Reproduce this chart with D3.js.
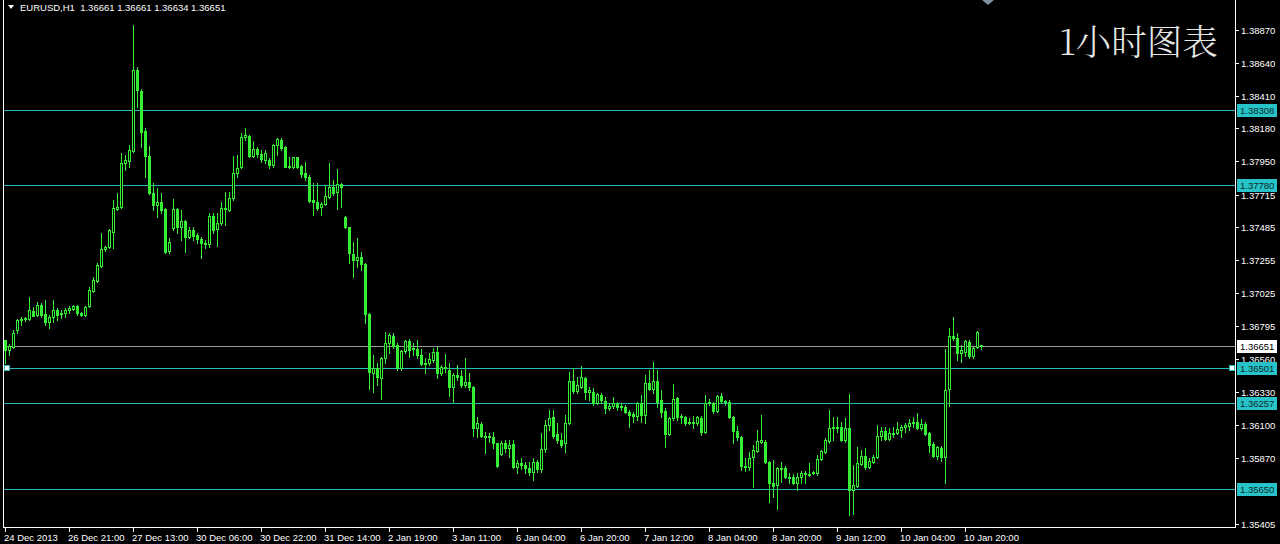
<!DOCTYPE html>
<html><head><meta charset="utf-8">
<script src="https://cdn.jsdelivr.net/npm/d3@7"></script>
<style>html,body{margin:0;padding:0;background:#000;overflow:hidden}svg{display:block}</style>
</head><body><svg id="c" width="1280" height="544"></svg>
<script>
const symbol = "EURUSD,H1";
const headerValues = ["1.36661", "1.36661", "1.36634", "1.36651"];
const title = "1小时图表";

const open = [
1.36695,1.36625,1.36646,1.36765,1.36836,1.36843,1.36843,1.36899,1.36871,1.36941,
1.36878,1.36821,1.36857,1.36906,1.36878,1.36885,1.36906,1.36913,1.36934,1.36885,
1.36871,1.36934,1.37039,1.37109,1.37214,1.37334,1.37348,1.37453,1.37614,1.37628,
1.37937,1.37951,1.38021,1.38589,1.38442,1.38161,1.37986,1.37726,1.37642,1.37663,
1.37614,1.37319,1.37481,1.37614,1.37488,1.37530,1.37418,1.37467,1.37432,1.37404,
1.37376,1.37369,1.37565,1.37474,1.37516,1.37614,1.37607,1.37691,1.37867,1.37909,
1.38119,1.38126,1.37986,1.38035,1.38000,1.37958,1.37958,1.37923,1.38063,1.38098,
1.38049,1.37916,1.37909,1.37979,1.37916,1.37867,1.37839,1.37677,1.37663,1.37628,
1.37649,1.37698,1.37768,1.37733,1.37789,1.37558,1.37488,1.37298,1.37256,1.37277,
1.37228,1.36878,1.36464,1.36499,1.36429,1.36569,1.36674,1.36723,1.36660,1.36499,
1.36618,1.36688,1.36632,1.36632,1.36590,1.36534,1.36534,1.36555,1.36611,1.36464,
1.36499,1.36485,1.36366,1.36450,1.36443,1.36380,1.36401,1.36366,1.36078,1.36106,
1.36022,1.36022,1.36015,1.35973,1.35896,1.35973,1.35938,1.35966,1.35804,1.35833,
1.35818,1.35797,1.35769,1.35840,1.35790,1.35931,1.36099,1.36155,1.36036,1.35994,
1.35973,1.36113,1.36408,1.36338,1.36366,1.36429,1.36331,1.36331,1.36253,1.36309,
1.36267,1.36218,1.36232,1.36253,1.36225,1.36225,1.36190,1.36176,1.36162,1.36253,
1.36169,1.36394,1.36352,1.36408,1.36274,1.36197,1.36036,1.36148,1.36288,1.36155,
1.36155,1.36120,1.36113,1.36113,1.36148,1.36050,1.36253,1.36253,1.36197,1.36302,
1.36267,1.36260,1.36155,1.36057,1.36015,1.35811,1.35804,1.35875,1.35917,1.35980,
1.35980,1.35840,1.35692,1.35678,1.35797,1.35797,1.35734,1.35734,1.35692,1.35734,
1.35762,1.35755,1.35762,1.35762,1.35861,1.35910,1.35987,1.36078,1.36085,1.36085,
1.35994,1.36078,1.35643,1.35671,1.35825,1.35882,1.35804,1.35840,1.35875,1.36022,
1.36057,1.36001,1.36043,1.36043,1.36064,1.36085,1.36092,1.36113,1.36120,1.36078,
1.36106,1.36043,1.35966,1.35882,1.35938,1.35875,1.36352,1.36723,1.36709,1.36604,
1.36611,1.36681,1.36583,1.36646,1.36661];

const high = [
1.36695,1.36667,1.36765,1.36843,1.36857,1.36857,1.36997,1.36927,1.36962,1.36955,
1.36976,1.36871,1.36976,1.36920,1.36906,1.36920,1.36934,1.36941,1.36941,1.36892,
1.36934,1.37067,1.37137,1.37235,1.37446,1.37355,1.37474,1.37677,1.37726,1.38007,
1.37993,1.38063,1.38905,1.38610,1.38456,1.38182,1.38056,1.37796,1.37761,1.37726,
1.37621,1.37411,1.37684,1.37621,1.37607,1.37537,1.37488,1.37488,1.37446,1.37418,
1.37397,1.37586,1.37586,1.37586,1.37663,1.37733,1.37733,1.37986,1.37993,1.38147,
1.38182,1.38133,1.38091,1.38049,1.38028,1.38028,1.37972,1.38070,1.38112,1.38112,
1.38056,1.37979,1.37979,1.37979,1.37923,1.37944,1.37853,1.37796,1.37796,1.37663,
1.37782,1.37937,1.37817,1.37895,1.37796,1.37565,1.37488,1.37383,1.37411,1.37312,
1.37235,1.36885,1.36590,1.36534,1.36576,1.36751,1.36744,1.36744,1.36674,1.36625,
1.36695,1.36702,1.36674,1.36695,1.36632,1.36569,1.36604,1.36639,1.36646,1.36520,
1.36597,1.36534,1.36464,1.36520,1.36485,1.36569,1.36464,1.36373,1.36155,1.36120,
1.36050,1.36043,1.36050,1.35973,1.35987,1.35994,1.35994,1.35994,1.35854,1.35868,
1.35840,1.35840,1.35868,1.35854,1.36043,1.36134,1.36204,1.36204,1.36113,1.36043,
1.36169,1.36471,1.36499,1.36436,1.36513,1.36436,1.36366,1.36359,1.36323,1.36323,
1.36295,1.36253,1.36295,1.36260,1.36253,1.36239,1.36204,1.36190,1.36260,1.36309,
1.36450,1.36485,1.36541,1.36485,1.36345,1.36218,1.36155,1.36387,1.36295,1.36176,
1.36162,1.36148,1.36162,1.36162,1.36162,1.36309,1.36281,1.36260,1.36309,1.36323,
1.36274,1.36274,1.36162,1.36092,1.36022,1.35868,1.35910,1.35959,1.36064,1.36169,
1.35994,1.35847,1.35854,1.35804,1.35840,1.35811,1.35762,1.35755,1.35762,1.35776,
1.35776,1.35833,1.35776,1.35889,1.35924,1.36008,1.36204,1.36155,1.36155,1.36120,
1.36148,1.36316,1.35818,1.35945,1.35924,1.35938,1.35868,1.35889,1.36099,1.36085,
1.36085,1.36078,1.36085,1.36120,1.36099,1.36113,1.36141,1.36155,1.36183,1.36141,
1.36120,1.36050,1.35980,1.35952,1.35952,1.36632,1.36779,1.36857,1.36744,1.36660,
1.36695,1.36695,1.36646,1.36758,1.36661];

const low = [
1.36534,1.36590,1.36639,1.36744,1.36800,1.36828,1.36836,1.36864,1.36864,1.36857,
1.36800,1.36779,1.36821,1.36836,1.36850,1.36857,1.36885,1.36906,1.36871,1.36864,
1.36864,1.36927,1.37032,1.37102,1.37207,1.37319,1.37341,1.37341,1.37607,1.37621,
1.37888,1.37909,1.38014,1.38329,1.38049,1.37839,1.37719,1.37607,1.37558,1.37586,
1.37305,1.37305,1.37467,1.37446,1.37397,1.37312,1.37411,1.37397,1.37376,1.37270,
1.37341,1.37348,1.37446,1.37355,1.37502,1.37502,1.37600,1.37677,1.37839,1.37902,
1.38098,1.37979,1.37979,1.37979,1.37944,1.37937,1.37902,1.37909,1.37993,1.38028,
1.37909,1.37902,1.37902,1.37902,1.37839,1.37817,1.37663,1.37572,1.37607,1.37572,
1.37642,1.37691,1.37712,1.37614,1.37628,1.37481,1.37235,1.37137,1.37207,1.37186,
1.36814,1.36352,1.36331,1.36380,1.36281,1.36534,1.36604,1.36639,1.36485,1.36485,
1.36604,1.36576,1.36590,1.36569,1.36520,1.36464,1.36520,1.36541,1.36429,1.36450,
1.36471,1.36302,1.36260,1.36415,1.36366,1.36366,1.36345,1.36022,1.36015,1.36015,
1.35903,1.35980,1.35938,1.35804,1.35889,1.35910,1.35875,1.35797,1.35762,1.35790,
1.35762,1.35748,1.35713,1.35769,1.35769,1.35910,1.36064,1.36008,1.35973,1.35945,
1.35910,1.36106,1.36323,1.36323,1.36359,1.36281,1.36274,1.36239,1.36246,1.36253,
1.36183,1.36204,1.36218,1.36204,1.36204,1.36183,1.36085,1.36120,1.36134,1.36120,
1.36113,1.36345,1.36323,1.36225,1.36155,1.35945,1.36029,1.36134,1.36134,1.36113,
1.36099,1.36106,1.36078,1.36099,1.36029,1.36043,1.36239,1.36183,1.36190,1.36253,
1.36239,1.36148,1.35973,1.35994,1.35783,1.35776,1.35783,1.35664,1.35910,1.35973,
1.35833,1.35559,1.35594,1.35510,1.35699,1.35727,1.35692,1.35685,1.35643,1.35692,
1.35692,1.35741,1.35755,1.35748,1.35854,1.35903,1.35973,1.35994,1.36050,1.35987,
1.35980,1.35468,1.35475,1.35664,1.35818,1.35790,1.35797,1.35833,1.35868,1.35994,
1.35994,1.35994,1.36015,1.36036,1.36015,1.36050,1.36064,1.36085,1.36071,1.36064,
1.36029,1.35910,1.35875,1.35861,1.35847,1.35692,1.36232,1.36695,1.36555,1.36541,
1.36583,1.36569,1.36569,1.36639,1.36634];

const close = [
1.36625,1.36653,1.36744,1.36836,1.36843,1.36850,1.36906,1.36864,1.36941,1.36871,
1.36821,1.36857,1.36906,1.36871,1.36885,1.36906,1.36920,1.36934,1.36885,1.36871,
1.36927,1.37046,1.37116,1.37221,1.37334,1.37348,1.37467,1.37621,1.37628,1.37937,
1.37958,1.38028,1.38589,1.38449,1.38154,1.37986,1.37726,1.37642,1.37663,1.37607,
1.37312,1.37383,1.37614,1.37488,1.37530,1.37418,1.37467,1.37425,1.37404,1.37376,
1.37369,1.37565,1.37467,1.37516,1.37621,1.37621,1.37691,1.37867,1.37902,1.38119,
1.38133,1.37986,1.38035,1.38000,1.37965,1.38007,1.37923,1.38063,1.38105,1.38042,
1.37909,1.37909,1.37979,1.37909,1.37860,1.37839,1.37670,1.37663,1.37621,1.37649,
1.37705,1.37768,1.37726,1.37789,1.37768,1.37488,1.37305,1.37256,1.37277,1.37228,
1.36878,1.36471,1.36499,1.36436,1.36569,1.36674,1.36730,1.36653,1.36499,1.36618,
1.36688,1.36625,1.36639,1.36590,1.36527,1.36527,1.36562,1.36611,1.36464,1.36506,
1.36506,1.36366,1.36450,1.36436,1.36380,1.36401,1.36366,1.36078,1.36113,1.36022,
1.36015,1.36015,1.35973,1.35811,1.35973,1.35938,1.35959,1.35804,1.35833,1.35818,
1.35797,1.35769,1.35840,1.35790,1.35931,1.36099,1.36148,1.36022,1.35994,1.35959,
1.36113,1.36408,1.36338,1.36380,1.36436,1.36331,1.36345,1.36253,1.36316,1.36274,
1.36218,1.36232,1.36253,1.36225,1.36232,1.36190,1.36169,1.36162,1.36253,1.36169,
1.36394,1.36352,1.36408,1.36260,1.36190,1.36036,1.36148,1.36281,1.36155,1.36162,
1.36113,1.36113,1.36120,1.36155,1.36050,1.36253,1.36260,1.36197,1.36302,1.36267,
1.36260,1.36155,1.36057,1.36015,1.35811,1.35804,1.35868,1.35924,1.35987,1.35994,
1.35840,1.35692,1.35671,1.35797,1.35790,1.35734,1.35727,1.35692,1.35734,1.35762,
1.35755,1.35748,1.35769,1.35861,1.35917,1.35994,1.36078,1.36085,1.36078,1.35994,
1.36078,1.35643,1.35678,1.35833,1.35882,1.35804,1.35847,1.35875,1.36022,1.36057,
1.36001,1.36043,1.36036,1.36071,1.36085,1.36099,1.36113,1.36120,1.36078,1.36106,
1.36036,1.35959,1.35882,1.35945,1.35875,1.36345,1.36723,1.36709,1.36604,1.36625,
1.36688,1.36583,1.36639,1.36751,1.36651];

const timeLabels = ["24 Dec 2013","26 Dec 21:00","27 Dec 13:00","30 Dec 06:00","30 Dec 22:00",
  "31 Dec 14:00","2 Jan 19:00","3 Jan 11:00","6 Jan 04:00","6 Jan 20:00","7 Jan 12:00",
  "8 Jan 04:00","8 Jan 20:00","9 Jan 12:00","10 Jan 04:00","10 Jan 20:00"];
const timeLabelBars = [0,16,32,48,64,80,96,112,128,144,160,176,192,208,224,240];
const priceTicks = [1.38870,1.38640,1.38410,1.38180,1.37950,1.37715,1.37485,1.37255,
  1.37025,1.36795,1.36560,1.36330,1.36100,1.35870,1.35405];
const levels = [1.38308,1.37780,1.36501,1.36257,1.35650];
const selectedLevel = 1.36501;
const currentPrice = 1.36651;

const GREEN = "#35ee35", CYAN = "#22b8b8", BOXC = "#27c3c8";
const FONT = "'Liberation Sans', Arial, sans-serif";

const svg = d3.select("#c");
svg.append("rect").attr("width",1280).attr("height",544).attr("fill","#000");

const plotL = 3, plotR = 1235, plotB = 527;
const y = d3.scaleLinear().domain([1.35384, 1.39080]).range([527, 0]);
const n = open.length;
const x = d3.scaleLinear().domain([0, n - 1]).range([5, 5 + 4 * (n - 1)]);
const Y = v => Math.round(y(v));

const g = svg.append("g").attr("shape-rendering","crispEdges");

// horizontal levels
g.selectAll("line.lvl").data(levels).join("line")
  .attr("x1", plotL).attr("x2", plotR)
  .attr("y1", d => Y(d) + 0.5).attr("y2", d => Y(d) + 0.5)
  .attr("stroke", CYAN).attr("stroke-width", 1);
// current price line
g.append("line").attr("x1", plotL).attr("x2", plotR)
  .attr("y1", Y(currentPrice) + 0.5).attr("y2", Y(currentPrice) + 0.5)
  .attr("stroke", "#9a9a9a");

// candles
const bars = d3.range(n).map(i => ({i, o: open[i], h: high[i], l: low[i], c: close[i]}));
const cg = g.append("g");
cg.selectAll("line.wick").data(bars).join("line")
  .attr("x1", d => Math.round(x(d.i)) + 0.5).attr("x2", d => Math.round(x(d.i)) + 0.5)
  .attr("y1", d => Y(d.h)).attr("y2", d => Y(d.l) + 1)
  .attr("stroke", GREEN);
bars.forEach(d => {
  const cx = Math.round(x(d.i));
  const yo = Y(d.o), yc = Y(d.c);
  const top = Math.min(yo, yc), bot = Math.max(yo, yc);
  if (bot - top < 1) {
    cg.append("line").attr("x1", cx - 1).attr("x2", cx + 2)
      .attr("y1", top + 0.5).attr("y2", top + 0.5).attr("stroke", GREEN);
  } else {
    cg.append("rect").attr("x", cx - 0.5).attr("y", top + 0.5)
      .attr("width", 2).attr("height", bot - top)
      .attr("fill", d.c > d.o ? "#000" : GREEN).attr("stroke", GREEN);
  }
});

// frame
g.append("line").attr("x1", 3.5).attr("x2", 3.5).attr("y1", 0).attr("y2", plotB + 1).attr("stroke", "#fff");
g.append("line").attr("x1", plotR + 0.5).attr("x2", plotR + 0.5).attr("y1", 0).attr("y2", plotB + 1).attr("stroke", "#fff");
g.append("line").attr("x1", 3).attr("x2", plotR + 1).attr("y1", plotB + 0.5).attr("y2", plotB + 0.5).attr("stroke", "#fff");

// selection markers on selected level
[7, 1232].forEach(px => {
  g.append("rect").attr("x", px - 2.5).attr("y", Y(selectedLevel) - 2.5)
    .attr("width", 5).attr("height", 5).attr("fill", "#fff").attr("stroke", CYAN);
});

// price axis ticks
const pt = svg.append("g");
pt.selectAll("line").data(priceTicks).join("line")
  .attr("shape-rendering","crispEdges")
  .attr("x1", plotR).attr("x2", plotR + 4)
  .attr("y1", d => Y(d) + 0.5).attr("y2", d => Y(d) + 0.5).attr("stroke", "#fff");
pt.selectAll("text").data(priceTicks).join("text")
  .attr("x", plotR + 6).attr("y", d => Y(d) + 4)
  .attr("fill", "#fff").attr("font-family", FONT).attr("font-size", "9.5px")
  .text(d => d.toFixed(5));

// level boxes
const bx = svg.append("g");
levels.forEach(v => {
  bx.append("rect").attr("x", 1237).attr("y", Y(v) - 6).attr("width", 40).attr("height", 13).attr("fill", BOXC);
  bx.append("text").attr("x", 1240).attr("y", Y(v) + 4).attr("fill", "#0a2a2a")
    .attr("font-family", FONT).attr("font-size", "9.5px").text(v.toFixed(5));
});
bx.append("rect").attr("x", 1237).attr("y", Y(currentPrice) - 6).attr("width", 40).attr("height", 13).attr("fill", "#fff");
bx.append("text").attr("x", 1240).attr("y", Y(currentPrice) + 4).attr("fill", "#000")
  .attr("font-family", FONT).attr("font-size", "9.5px").text(currentPrice.toFixed(5));

// time axis
const tx = svg.append("g");
tx.selectAll("line").data(timeLabelBars).join("line")
  .attr("shape-rendering","crispEdges")
  .attr("x1", d => Math.round(x(d)) + 0.5).attr("x2", d => Math.round(x(d)) + 0.5)
  .attr("y1", plotB).attr("y2", plotB + 5).attr("stroke", "#fff");
tx.selectAll("text").data(timeLabelBars).join("text")
  .attr("x", d => Math.round(x(d)) - 1).attr("y", 541)
  .attr("fill", "#fff").attr("font-family", FONT).attr("font-size", "9.5px")
  .text((d, k) => timeLabels[k]);

// header
svg.append("path").attr("d", "M8,5 L14,5 L11,9 Z").attr("fill", "#fff");
svg.append("text").attr("x", 20).attr("y", 11).attr("fill", "#fff")
  .attr("font-family", FONT).attr("font-size", "9.5px").style("white-space", "pre")
  .text(symbol + "  " + headerValues.join(" "));

// chart shift marker
svg.append("path").attr("d", "M982,0 L994,0 L988,5 Z").attr("fill", "#8090a0");

// title
svg.append("text").attr("x", 1059).attr("y", 55).attr("fill", "#e6e6e6")
  .attr("font-family", "'Noto Serif CJK SC','Noto Sans CJK SC',serif").attr("font-weight", 300)
  .attr("font-size", "35.5px").text(title);
</script></body></html>
